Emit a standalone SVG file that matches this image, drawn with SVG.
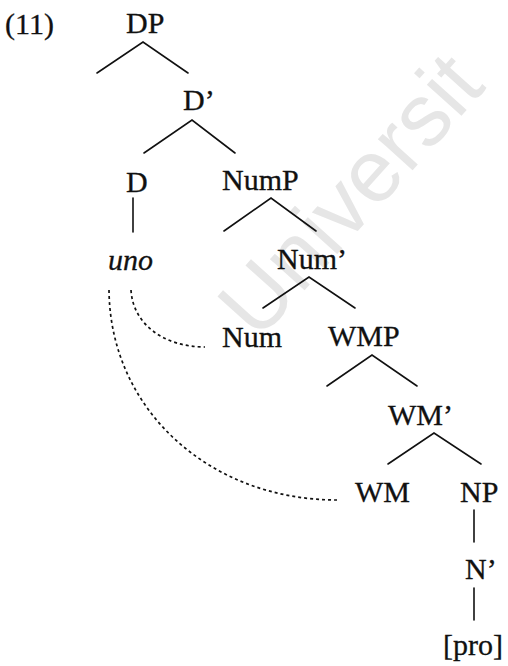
<svg xmlns="http://www.w3.org/2000/svg" width="508" height="666" viewBox="0 0 508 666">
<style>
.t{font-family:"Liberation Serif","Times New Roman",serif;font-size:30px;fill:#111;stroke:#111;stroke-width:0.3}
.i{font-style:italic}
.e{stroke:#111;stroke-width:1.6;fill:none;stroke-linecap:round}
.d{stroke:#111;stroke-width:1.7;fill:none;stroke-dasharray:3 3}
.wm{font-family:"Liberation Sans",Arial,sans-serif;font-size:88px;fill:#e6e6e6}
</style>
<rect width="508" height="666" fill="#fff"/>
<text class="wm" transform="translate(258,342) rotate(-48)">Universit</text>
<text id="label" class="t" x="5" y="34">(11)</text>
<g id="connectors">
<path class="e" d="M97,73 L143,42 L188,73"/>
<path class="e" d="M144,153 L192,120 L235,153"/>
<path class="e" d="M133,198 L133,232"/>
<path class="e" d="M224,231 L271,198 L316,231"/>
<path class="e" d="M263,308 L309,277 L355,308"/>
<path class="e" d="M327,386 L372,355 L417,386"/>
<path class="e" d="M388,464 L434,433 L481,464"/>
<path class="e" d="M474,510 L474,542"/>
<path class="e" d="M474,588 L474,620"/>
<path class="d" d="M131,290 C133,325 165,347 205,347"/>
<path class="d" d="M109,290 C110,410 210,500 337,500"/>
</g>
<g id="DP"><text class="t" x="126" y="33">DP</text></g>
<g id="Dbar"><text class="t" x="183" y="110">D’</text></g>
<g id="D"><text class="t" x="126" y="192">D</text></g>
<g id="NumP"><text class="t" x="222" y="190">NumP</text></g>
<g id="uno"><text class="t i" x="108" y="270">uno</text></g>
<g id="Numbar"><text class="t" x="277" y="269">Num’</text></g>
<g id="Num"><text class="t" x="222" y="347">Num</text></g>
<g id="WMP"><text class="t" x="328" y="346">WMP</text></g>
<g id="WMbar"><text class="t" x="388" y="425">WM’</text></g>
<g id="WM"><text class="t" x="355" y="502">WM</text></g>
<g id="NP"><text class="t" x="460" y="502">NP</text></g>
<g id="Nbar"><text class="t" x="465" y="579">N’</text></g>
<g id="pro"><text class="t" x="443" y="655">[pro]</text></g>
</svg>
